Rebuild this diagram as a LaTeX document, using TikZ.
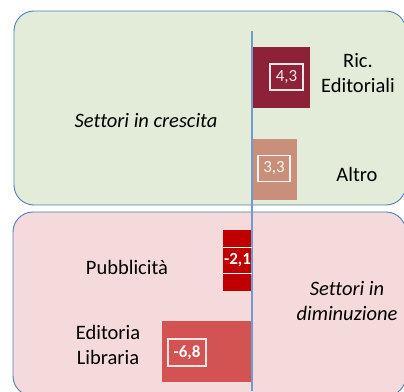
\documentclass[tikz,border=0pt]{standalone}
\usepackage{fontspec}
\setmainfont{Carlito}[Ligatures=NoCommon]
\usetikzlibrary{positioning}

\definecolor{framec}{HTML}{4F7EB6}
\definecolor{axisc}{HTML}{6F9BD1}
\definecolor{growc}{HTML}{E2ECD9}
\definecolor{dropc}{HTML}{F4DADA}
\definecolor{ricc}{HTML}{8C2137}
\definecolor{altroc}{HTML}{C98F7B}
\definecolor{pubc}{HTML}{C00000}
\definecolor{editc}{HTML}{D35252}

\begin{document}
\begin{tikzpicture}[x=1pt, y=-1pt,
  region/.style={draw=framec, line width=0.9pt, rounded corners=20pt},
  bar/.style={anchor=north west, inner sep=0pt, outer sep=0pt},
  val/.style={draw=#1, line width=1.2pt, inner sep=0pt, minimum width=33pt,
    minimum height=26pt, font=\fontsize{17}{19}\selectfont},
  lbl/.style={align=center, font=\fontsize{20.5}{25}\selectfont}
]
\useasboundingbox (0,0) rectangle (404,391);
\clip (0,0) rectangle (404,391);

% the two groups
\draw[region, fill=growc] (14,11) rectangle (406,205);
\draw[region, fill=dropc] (13,212) rectangle (406,396);

% bars
\node[bar, fill=ricc, minimum width=58pt, minimum height=61pt] (ric) at (252,47) {};
\node[bar, fill=altroc, minimum width=45pt, minimum height=61pt] (altro) at (252,139) {};
\node[bar, fill=pubc, minimum width=29pt, minimum height=61pt] (pub) at (223,230) {};
\node[bar, fill=editc, minimum width=90pt, minimum height=61pt] (edit) at (162,321) {};

% axis
\coordinate (top) at (252,31);
\coordinate (bottom) at (252,391);
\draw[axisc, line width=1.1pt] (top) -- (bottom);

% values
\node[val=white!90!ricc, text=white!90!ricc] (vric) at (286.5,77) {4,3};
\node[val=white!90!altroc, text=white!90!altroc, minimum width=32pt] (valtro) at (274,168.5) {3,3};
\node[font=\fontsize{17}{19}\selectfont\bfseries, text=white, inner sep=0pt,
  minimum width=29pt, minimum height=25pt] (vpub) at (237.5,260.5) {-2,1};
\draw[white, line width=1.2pt] (vpub.north west) -- (vpub.north east)
  (vpub.south west) -- (vpub.south east);
\node[val=white!85!editc, text=white, font=\fontsize{17}{19}\selectfont\bfseries,
  minimum width=38pt, minimum height=27pt] (vedit) at (187,352.5) {-6,8};

% labels
\node[lbl] (lric) at (358,73.5) {Ric.\\Editoriali};
\node[lbl] (laltro) at (357,174) {Altro};
\node[lbl, font=\fontsize{20.5}{25}\selectfont\itshape] (lgrow) at (146,121) {Settori in crescita};
\node[lbl] (lpub) at (127,267) {Pubblicità};
\node[lbl] (ledit) at (108,345) {Editoria\\Libraria};
\node[lbl, font=\fontsize{20.5}{25}\selectfont\itshape] (ldrop) at (347,301) {Settori in\\diminuzione};
\end{tikzpicture}
\end{document}
